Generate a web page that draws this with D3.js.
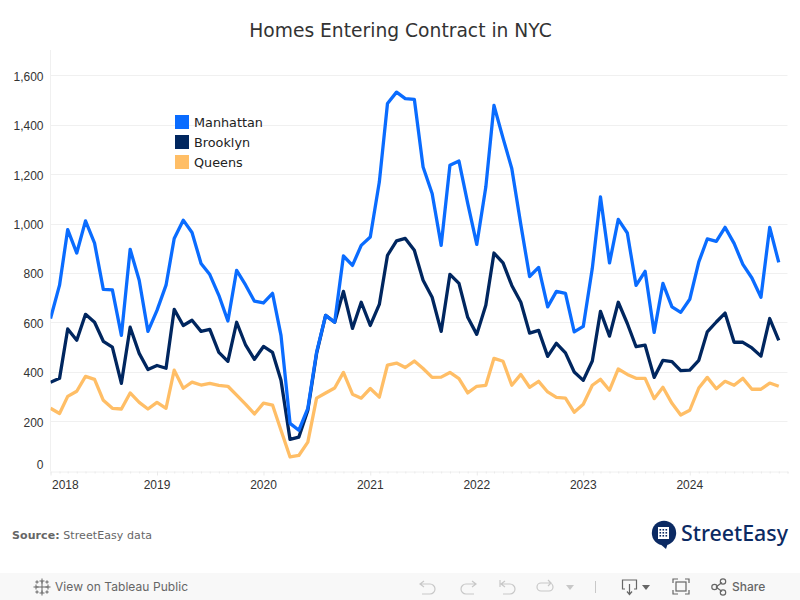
<!DOCTYPE html>
<html><head><meta charset="utf-8">
<script src="https://cdn.jsdelivr.net/npm/d3@7"></script>
<style>html,body{margin:0;padding:0;background:#fff;overflow:hidden}svg{display:block}</style>
</head><body><svg id="c" width="800" height="600"></svg>
<script>
const title = "Homes Entering Contract in NYC";
const seriesNames = ["Manhattan","Brooklyn","Queens"];
const seriesColors = ["#0A6CFF","#00265F","#FFBE66"];
const yTicks = [0,200,400,600,800,1000,1200,1400,1600];
const manhattan = [620,755,980,885,1015,925,738,736,552,900,775,568,
 653,755,944,1018,968,843,798,714,610,815,755,690,
 683,722,552,196,168,257,484,633,605,873,835,916,
 950,1172,1490,1536,1510,1507,1233,1126,916,1240,1257,1086,
 920,1152,1482,1350,1227,1000,790,827,667,730,722,566,
 588,823,1112,845,1021,966,754,811,564,762,667,645,
 698,849,942,932,989,924,839,784,706,989,847];
const brooklyn = [362,378,578,532,637,605,528,504,358,585,479,414,
 430,419,657,592,613,568,576,483,447,605,512,455,
 507,483,370,131,140,249,479,633,605,730,580,686,
 592,677,876,934,944,896,775,706,568,799,762,625,
 556,674,885,845,754,686,561,572,467,520,481,404,
 370,448,649,549,686,600,506,512,382,451,446,409,
 411,451,566,606,642,524,524,501,468,620,532];
const queens = [257,236,305,326,386,374,289,257,254,319,281,254,
 281,257,411,338,363,351,358,350,346,310,273,234,
 278,270,168,60,66,120,298,319,339,402,314,298,
 337,302,432,440,422,448,418,382,383,402,377,319,
 346,350,459,447,350,394,342,366,323,301,298,241,
 273,350,374,330,416,394,378,378,296,342,277,230,
 249,339,382,336,366,350,378,334,334,359,346];
const months = d3.utcMonths(new Date(Date.UTC(2018,0,1)), new Date(Date.UTC(2024,11,1)));

const svg = d3.select("#c");
const x = d3.scaleUtc().domain([new Date(Date.UTC(2018,0,1)), new Date(Date.UTC(2024,11,1))]).range([50.5,787.5]);
const y = d3.scaleLinear().domain([0,1600]).range([471.8,76.3]);

svg.append("text").attr("x",400.5).attr("y",37).attr("text-anchor","middle")
  .attr("font-family","'DejaVu Sans'").attr("font-size",18.7).attr("fill","#333").text(title);

// grid
svg.append("g").selectAll("line").data(yTicks.filter(d=>d>0)).join("line")
  .attr("x1",50.5).attr("x2",787.5).attr("y1",d=>Math.round(y(d))+.5-1).attr("y2",d=>Math.round(y(d))+.5-1)
  .attr("stroke","#f0f0f0");
svg.append("line").attr("x1",50.5).attr("x2",50.5).attr("y1",50).attr("y2",471.5).attr("stroke","#f0f0f0");

// y axis
const gy = svg.append("g").attr("transform","translate(50.5,0)")
  .call(d3.axisLeft(y).tickValues(yTicks).tickFormat(d3.format(",")).tickSize(0).tickPadding(7));
gy.select(".domain").remove();
gy.selectAll("text").attr("font-family","'Liberation Sans'").attr("font-size",12).attr("fill","#333")
  .attr("dy",d=>d===0?"-3.6px":"0.32em");

// x axis
const gx = svg.append("g").attr("transform","translate(0,471.5)")
  .call(d3.axisBottom(x).tickValues(d3.utcMonths(new Date(Date.UTC(2018,0,1)), new Date(Date.UTC(2024,11,2)))).tickSize(2).tickFormat(d=>d.getUTCMonth()===0?d.getUTCFullYear():""));
gx.select(".domain").attr("stroke","#f0f0f0");
gx.selectAll("line").attr("stroke","#eaeaea").attr("y2",d=>d.getUTCMonth()===0?4:2);
gx.selectAll("text").attr("font-family","'Liberation Sans'").attr("font-size",12).attr("fill","#333").attr("y",8.5)
  .attr("text-anchor",d=>d.getUTCFullYear()===2018?"start":"middle").attr("dx",d=>d.getUTCFullYear()===2018?"1":"-0.5");

// lines
const line = d3.line().x((d,i)=>x(months[i])).y(d=>y(d));
svg.append("clipPath").attr("id","pl").append("rect").attr("x",50.5).attr("y",50).attr("width",737).attr("height",422);
const plots = [[queens,2],[brooklyn,1],[manhattan,0]];
svg.append("g").attr("clip-path","url(#pl)").selectAll("path").data(plots).join("path")
  .attr("d",d=>line(d[0])).attr("fill","none").attr("stroke",d=>seriesColors[d[1]])
  .attr("stroke-width",3.3).attr("stroke-linejoin","round").attr("stroke-linecap","butt");

// legend
const lg = svg.append("g").selectAll("g").data(seriesNames).join("g")
  .attr("transform",(d,i)=>`translate(175,${115+i*20})`);
lg.append("rect").attr("width",14).attr("height",14).attr("fill",(d,i)=>seriesColors[i]);
lg.append("text").attr("x",19).attr("y",12).attr("font-family","'DejaVu Sans'").attr("font-size",12.8)
  .attr("fill","#222").text(d=>d);

// source
const src = svg.append("text").attr("x",12).attr("y",539).attr("font-family","'DejaVu Sans'").attr("font-size",11).attr("letter-spacing","0.08").attr("fill","#666");
src.append("tspan").attr("font-weight","bold").text("Source:");
src.append("tspan").text(" StreetEasy data");

// logo
const logo = svg.append("g").attr("fill","#0B2A63");
logo.append("circle").attr("cx",664).attr("cy",533).attr("r",12.2);
logo.append("path").attr("d","M659 543L666 549L668 543Z");
const bx = logo.append("g");
bx.append("rect").attr("x",658).attr("y",527).attr("width",11).attr("height",12).attr("fill","#fff");
for(let r=0;r<3;r++)for(let c=0;c<3;c++)
  bx.append("rect").attr("x",659.5+c*3).attr("y",529+r*3).attr("width",1.6).attr("height",1.6).attr("fill","#0B2A63");
svg.append("text").attr("x",681).attr("y",541).attr("font-family","'Noto Sans'").attr("font-weight",500)
  .attr("font-size",22).attr("fill","#0B2A63").attr("textLength",107).attr("lengthAdjust","spacingAndGlyphs").text("StreetEasy");

// toolbar
svg.append("rect").attr("x",0).attr("y",573).attr("width",800).attr("height",27).attr("fill","#f8f8f8");
const tb = svg.append("g").attr("font-family","'Inter'").attr("font-size",12).attr("fill","#666");
tb.append("text").attr("x",55).attr("y",591).attr("textLength",133).text("View on Tableau Public");
tb.append("text").attr("x",732).attr("y",591).attr("font-size",12).attr("font-weight",500).text("Share");
const tab = svg.append("g").attr("stroke","#666").attr("stroke-width",1).attr("fill","none");
[[42,587,7],[42,581,3],[42,593,3],[36,587,3],[48,587,3],[37,582,2],[47,582,2],[37,592,2],[47,592,2]].forEach(([cx,cy,s])=>{
  tab.append("path").attr("d",`M${cx-s/1.2} ${cy}H${cx+s/1.2}M${cx} ${cy-s/1.2}V${cy+s/1.2}`);
});
const ic = svg.append("g").attr("fill","none").attr("stroke","#c8c8c8").attr("stroke-width",1.2);
ic.append("path").attr("d","M421 584H430A5 5 0 0 1 430 594H422M424 581L420 584L424 587");
ic.append("path").attr("d","M475 584H466A5 5 0 0 0 466 594H474M472 581L476 584L472 587");
ic.append("path").attr("d","M502 584H510A5 5 0 0 1 510 594H503M505 581L501 584L505 587M500 580V587");
ic.append("path").attr("d","M541 583H549A4 4 0 0 1 549 591H541A4 4 0 0 1 541 583M548 580L551 583L548 586");
svg.append("path").attr("d","M566 585H574L570 590Z").attr("fill","#c8c8c8");
svg.append("line").attr("x1",595.5).attr("x2",595.5).attr("y1",581).attr("y2",593).attr("stroke","#c8c8c8");
const ic2 = svg.append("g").attr("fill","none").attr("stroke","#666").attr("stroke-width",1.2);
ic2.append("path").attr("d","M625 589H622.5V580H636.5V589H634M629.5 584V594M627 591.5L629.5 594.5L632 591.5");
svg.append("path").attr("d","M642 585H650L646 590Z").attr("fill","#666");
ic2.append("path").attr("d","M673 583V579H678M685 579H689V583M689 590V594H685M678 594H673V590");
ic2.append("rect").attr("x",676).attr("y",582).attr("width",10).attr("height",9);
ic2.append("path").attr("d","M716 587L722 582.5M716 587L722 591.5");
ic2.append("circle").attr("cx",714.5).attr("cy",587).attr("r",2.7);
ic2.append("circle").attr("cx",723).attr("cy",581.5).attr("r",2.7);
ic2.append("circle").attr("cx",723).attr("cy",592.5).attr("r",2.7);
</script></body></html>
